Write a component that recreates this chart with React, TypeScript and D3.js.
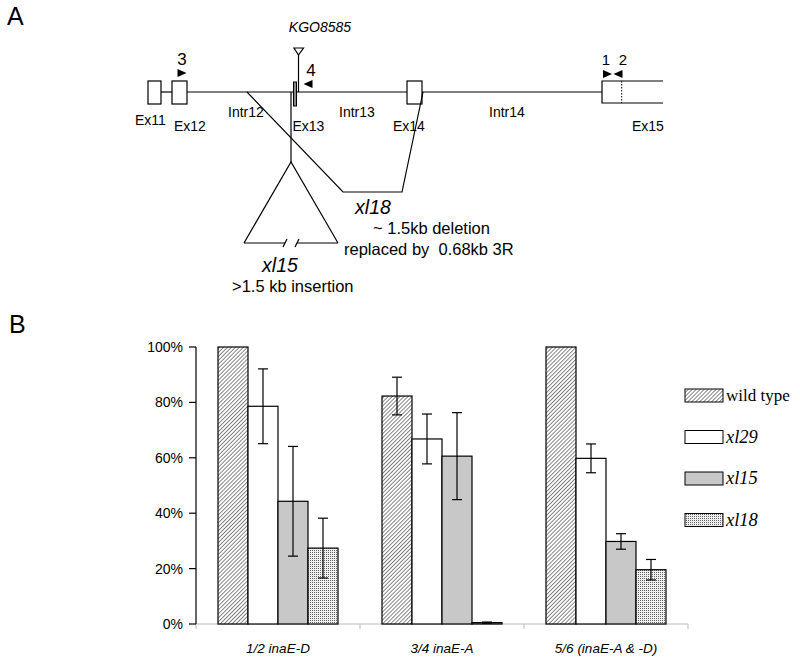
import React from "react";
import * as d3 from "d3";

// ---- panel B data ----
const categories = ["1/2 inaE-D", "3/4 inaE-A", "5/6 (inaE-A & -D)"];
const series = ["wild type", "xl29", "xl15", "xl18"];
const wildType = [1.0, 0.823, 1.0];
const xl29 = [0.786, 0.668, 0.598];
const xl15 = [0.443, 0.606, 0.298];
const xl18 = [0.274, 0.005, 0.196];
const errWildType = [0, 0.068, 0];
const errXl29 = [0.135, 0.09, 0.052];
const errXl15 = [0.198, 0.157, 0.028];
const errXl18 = [0.108, 0.002, 0.037];
const yTicks = [0, 0.2, 0.4, 0.6, 0.8, 1.0];

// ---- panel A schematic (diagram units) ----
const exonBoxes = [
  { name: "Ex11", start: 18, end: 31 },
  { name: "Ex12", start: 42, end: 57 },
  { name: "Ex14", start: 277, end: 292 },
];
const exonLabels = [
  { text: "Ex11", at: 5, row: 0 },
  { text: "Ex12", at: 44, row: 1 },
  { text: "Ex13", at: 162.5, row: 1 },
  { text: "Ex14", at: 263, row: 1 },
  { text: "Ex15", at: 502, row: 1 },
  { text: "Intr12", at: 98, row: -1 },
  { text: "Intr13", at: 209, row: -1 },
  { text: "Intr14", at: 359, row: -1 },
];
const primers = [
  { label: "3", at: 52, dir: 1, labelAt: 52 },
  { label: "4", at: 178, dir: -1, labelAt: 181 },
  { label: "1", at: 477.5, dir: 1, labelAt: 476 },
  { label: "2", at: 488, dir: -1, labelAt: 493 },
];

const W = 800;
const H = 664;

export default function App() {
  const seriesVals = [wildType, xl29, xl15, xl18];
  const seriesErr = [errWildType, errXl29, errXl15, errXl18];
  const fills = ["url(#hatch)", "#ffffff", "#c8c8c8", "url(#dots)"];

  const x0 = d3.scaleBand().domain(categories).range([196, 688]).paddingInner(0).paddingOuter(0);
  const x1 = d3.scaleBand().domain(series).range([22, x0.bandwidth() - 22]);
  const y = d3.scaleLinear().domain([0, 1]).range([624, 347]);
  const pct = d3.format(".0%");

  const gx = d3.scaleLinear().domain([0, 540]).range([130, 670]);
  const lineY = 92;
  const top = 81;
  const bot = 104;

  const font = "Liberation Sans, Arial, sans-serif";

  return (
    <svg width={W} height={H} style={{ position: "absolute", left: 0, top: 0, background: "#fff" }}>
      <defs>
        <pattern id="hatch" width="2.8" height="2.8" patternUnits="userSpaceOnUse" patternTransform="rotate(45)">
          <rect width="2.8" height="2.8" fill="#fff" />
          <line x1="0" y1="0" x2="0" y2="2.8" stroke="#333" strokeWidth="1.2" />
        </pattern>
        <pattern id="dots" width="2" height="2" patternUnits="userSpaceOnUse">
          <rect width="2" height="2" fill="#eee" />
          <rect width="1" height="1" fill="#666" />
        </pattern>
      </defs>

      {/* panel labels */}
      <text x={7} y={25} fontFamily={font} fontSize={25}>A</text>
      <text x={9} y={333} fontFamily={font} fontSize={25}>B</text>

      {/* ---------- panel A ---------- */}
      <g fontFamily={font} stroke="#000" fill="none" strokeWidth={1.2}>
        <line x1={gx(31)} x2={gx(42)} y1={lineY} y2={lineY} />
        <line x1={gx(57)} x2={gx(277)} y1={lineY} y2={lineY} />
        <line x1={gx(292)} x2={gx(472)} y1={lineY} y2={lineY} />
        {exonBoxes.map((e) => (
          <rect key={e.name} x={gx(e.start)} y={top} width={gx(e.end) - gx(e.start)} height={bot - top} fill="#fff" />
        ))}
        {/* Ex15 open box */}
        <path d={`M${gx(533)},${top}H${gx(472)}V${bot - 1}H${gx(533)}`} />
        <line x1={gx(491.7)} x2={gx(491.7)} y1={top} y2={bot - 1} strokeDasharray="1.5,1.5" strokeWidth={1} />
        {/* Ex13 thin box */}
        <rect x={gx(163.5)} y={top + 1} width={3} height={bot - top + 1} fill="#888" strokeWidth={1} />
        {/* KGO8585 insertion */}
        <line x1={gx(168.5)} x2={gx(168.5)} y1={54} y2={lineY} />
        <path d={`M${gx(164)},48L${gx(173.5)},48L${gx(168.5)},55Z`} fill="#fff" />
        {/* xl15 insertion */}
        <line x1={gx(161)} x2={gx(161)} y1={lineY} y2={162} />
        <path d={`M${gx(114)},243L${gx(161)},162L${gx(208)},243`} />
        <line x1={gx(114)} x2={gx(155)} y1={243} y2={243} />
        <line x1={gx(167)} x2={gx(208)} y1={243} y2={243} />
        <line x1={gx(153)} x2={gx(157)} y1={247} y2={239} />
        <line x1={gx(165)} x2={gx(169)} y1={247} y2={239} />
        {/* xl18 deletion */}
        <path d={`M${gx(117)},${lineY}L${gx(213)},192H${gx(272)}L${gx(293)},${lineY}`} />
        {/* primer arrows */}
        {primers.map((p) => {
          const cx = gx(p.at);
          const py = p.label === "4" ? 84 : p.label === "3" ? 73 : 74;
          const d = p.dir > 0
            ? `M${cx - 4.5},${py - 4}L${cx + 4.5},${py}L${cx - 4.5},${py + 4}Z`
            : `M${cx + 4.5},${py - 4}L${cx - 4.5},${py}L${cx + 4.5},${py + 4}Z`;
          return <path key={p.label} d={d} fill="#000" stroke="none" />;
        })}
      </g>
      <g fontFamily={font} fill="#000">
        {primers.map((p) => (
          <text key={p.label} x={gx(p.labelAt)} y={p.label === "4" ? 76 : 65}
            fontSize={p.label === "1" || p.label === "2" ? 15 : 17} textAnchor="middle">{p.label}</text>
        ))}
        {exonLabels.map((l) => (
          <text key={l.text} x={gx(l.at)} y={l.row === 0 ? 125 : l.row === 1 ? 131 : 117} fontSize={14}>{l.text}</text>
        ))}
        <text x={320} y={32} fontSize={14} fontStyle="italic" textAnchor="middle">KGO8585</text>
        <text x={373} y={214} fontSize={19.5} fontStyle="italic" textAnchor="middle">xl18</text>
        <text x={373} y={234} fontSize={16.5}>~ 1.5kb deletion</text>
        <text x={344} y={255} fontSize={16.5} style={{ whiteSpace: "pre" }}>replaced by  0.68kb 3R</text>
        <text x={280} y={272} fontSize={19.5} fontStyle="italic" textAnchor="middle">xl15</text>
        <text x={232} y={292} fontSize={16.5}>&gt;1.5 kb insertion</text>
      </g>

      {/* ---------- panel B ---------- */}
      <g fontFamily={font}>
        {/* x axis */}
        <line x1={196} x2={688} y1={624} y2={624} stroke="#bbb" />
        {[...categories.map((c) => x0(c) as number), 688].map((t, i) => (
          <line key={i} x1={t} x2={t} y1={624} y2={629} stroke="#bbb" />
        ))}
        {/* bars */}
        {categories.map((c, ci) => (
          <g key={c}>
            {series.map((s, si) => {
              const bx = (x0(c) as number) + (x1(s) as number);
              const v = seriesVals[si][ci];
              return (
                <rect key={s} x={bx} y={y(v)} width={x1.bandwidth()} height={y(0) - y(v)}
                  fill={fills[si]} stroke="#000" strokeWidth={1.2} />
              );
            })}
            {series.map((s, si) => {
              const e = seriesErr[si][ci];
              if (!e) return null;
              const cx = (x0(c) as number) + (x1(s) as number) + x1.bandwidth() / 2;
              const v = seriesVals[si][ci];
              return (
                <g key={s} stroke="#000" strokeWidth={1.2}>
                  <line x1={cx} x2={cx} y1={y(v + e)} y2={y(v - e)} />
                  <line x1={cx - 5} x2={cx + 5} y1={y(v + e)} y2={y(v + e)} />
                  <line x1={cx - 5} x2={cx + 5} y1={y(v - e)} y2={y(v - e)} />
                </g>
              );
            })}
            <text x={(x0(c) as number) + x0.bandwidth() / 2} y={653} fontSize={13.5} fontStyle="italic"
              textAnchor="middle">{c}</text>
          </g>
        ))}
        {/* y axis */}
        <line x1={196} x2={196} y1={y(1)} y2={y(0)} stroke="#000" strokeWidth={1.2} />
        {yTicks.map((t) => (
          <g key={t}>
            <line x1={189} x2={196} y1={y(t)} y2={y(t)} stroke="#000" strokeWidth={1.2} />
            <text x={183} y={y(t) + 5} fontSize={14} textAnchor="end">{pct(t)}</text>
          </g>
        ))}
      </g>

      {/* legend */}
      <g fontFamily="Liberation Serif, Times New Roman, serif">
        {series.map((s, i) => {
          const ly = 389 + i * 41.5;
          return (
            <g key={s}>
              <rect x={685} y={ly} width={38} height={13} fill={fills[i]} stroke="#000" strokeWidth={1} />
              <text x={726} y={ly + 12} fontSize={i === 0 ? 17 : 18.5} fontStyle={i === 0 ? "normal" : "italic"}>{s}</text>
            </g>
          );
        })}
      </g>
    </svg>
  );
}
